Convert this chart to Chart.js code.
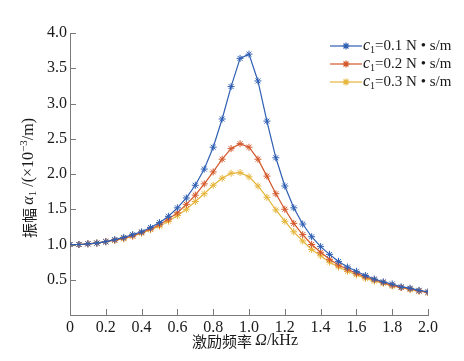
<!DOCTYPE html>
<html>
<head>
<meta charset="utf-8">
<script src="https://cdn.jsdelivr.net/npm/chart.js@4.4.1/dist/chart.umd.min.js"></script>
<style>
  html, body { margin: 0; padding: 0; background: #fff; }
  #wrap { width: 464px; height: 361px; }
</style>
</head>
<body>
<div id="wrap"><canvas id="c" width="464" height="361"></canvas></div>
<script>
// excitation frequency (kHz), sampled every 0.05
const freq = [0, 0.05, 0.1, 0.15, 0.2, 0.25, 0.3, 0.35, 0.4, 0.45, 0.5, 0.55, 0.6, 0.65, 0.7, 0.75, 0.8, 0.85, 0.9, 0.95,
  1.0, 1.05, 1.1, 1.15, 1.2, 1.25, 1.3, 1.35, 1.4, 1.45, 1.5, 1.55, 1.6, 1.65, 1.7, 1.75, 1.8, 1.85, 1.9, 1.95, 2.0];

// amplitude (x10^-3 /m)
const ampC01 = [1.00, 1.00, 1.01, 1.02, 1.04, 1.07, 1.10, 1.14, 1.18, 1.24, 1.31, 1.40, 1.52, 1.66, 1.84, 2.07, 2.38, 2.78, 3.24, 3.64,
  3.70, 3.32, 2.75, 2.23, 1.83, 1.52, 1.29, 1.11, 0.97, 0.86, 0.76, 0.68, 0.62, 0.56, 0.51, 0.47, 0.44, 0.40, 0.38, 0.35, 0.33];
const ampC02 = [1.00, 1.00, 1.01, 1.02, 1.04, 1.06, 1.09, 1.12, 1.17, 1.22, 1.28, 1.36, 1.45, 1.57, 1.70, 1.86, 2.03, 2.21, 2.36, 2.43,
  2.38, 2.21, 1.97, 1.72, 1.50, 1.30, 1.14, 1.00, 0.89, 0.79, 0.71, 0.65, 0.59, 0.54, 0.50, 0.46, 0.42, 0.39, 0.37, 0.34, 0.32];
const ampC03 = [1.00, 1.00, 1.01, 1.02, 1.04, 1.06, 1.08, 1.12, 1.16, 1.21, 1.26, 1.33, 1.41, 1.50, 1.61, 1.72, 1.84, 1.94, 2.01, 2.02,
  1.96, 1.83, 1.67, 1.49, 1.33, 1.18, 1.05, 0.93, 0.84, 0.75, 0.68, 0.62, 0.57, 0.52, 0.48, 0.45, 0.41, 0.39, 0.36, 0.34, 0.32];

const seriesNames = ["=0.1 N \u2022 s/m", "=0.2 N \u2022 s/m", "=0.3 N \u2022 s/m"];
const seriesColors = ["#2f5fb3", "#d3582b", "#e6b53a"];
const xTicks = [0, 0.2, 0.4, 0.6, 0.8, 1.0, 1.2, 1.4, 1.6, 1.8, 2.0];
const yTicks = [0.5, 1.0, 1.5, 2.0, 2.5, 3.0, 3.5, 4.0];

const SERIF = "'Liberation Serif', 'Times New Roman', serif";
const CJK = "'Noto Sans CJK SC', sans-serif";
const AXIS_COLOR = "#7a7a7a";
const TEXT_COLOR = "#1a1a1a";

// draw a run of text pieces with their own fonts / baseline shifts
function drawRich(ctx, parts, x, y, align) {
  let total = 0;
  parts.forEach(p => { ctx.font = p.font; p.w = ctx.measureText(p.t).width; total += p.w; });
  let cx = align === "center" ? x - total / 2 : x;
  ctx.textAlign = "left";
  ctx.textBaseline = "middle";
  parts.forEach(p => {
    ctx.font = p.font;
    ctx.fillText(p.t, cx, y + (p.dy || 0));
    cx += p.w;
  });
}

const decorPlugin = {
  id: "decor",
  afterDraw(chart) {
    const ctx = chart.ctx;
    const xs = chart.scales.x, ys = chart.scales.y;
    const area = chart.chartArea;
    ctx.save();

    // inward ticks
    ctx.strokeStyle = AXIS_COLOR;
    ctx.lineWidth = 1;
    ctx.beginPath();
    xTicks.forEach(v => {
      const px = Math.round(xs.getPixelForValue(v)) + 0.5;
      ctx.moveTo(px, area.bottom);
      ctx.lineTo(px, area.bottom - 6);
    });
    yTicks.forEach(v => {
      const py = Math.round(ys.getPixelForValue(v)) + 0.5;
      ctx.moveTo(area.left, py);
      ctx.lineTo(area.left + 6, py);
    });
    ctx.stroke();

    ctx.fillStyle = TEXT_COLOR;

    // x title
    drawRich(ctx, [
      { t: "激励频率 ", font: "15px " + CJK },
      { t: "Ω", font: "italic 16px " + SERIF },
      { t: "/kHz", font: "16px " + SERIF }
    ], 245, 341, "center");

    // y title (rotated)
    ctx.save();
    ctx.translate(29, 178);
    ctx.rotate(-Math.PI / 2);
    drawRich(ctx, [
      { t: "振幅 ", font: "15px " + CJK },
      { t: "α", font: "italic 16px " + SERIF },
      { t: "1", font: "11px " + SERIF, dy: 4 },
      { t: " /(×10", font: "16px " + SERIF },
      { t: "−3", font: "11px " + SERIF, dy: -5 },
      { t: "/m)", font: "16px " + SERIF }
    ], 0, 0, "center");
    ctx.restore();

    // legend
    seriesNames.forEach((name, i) => {
      const y = 46 + i * 18;
      ctx.strokeStyle = seriesColors[i];
      ctx.lineWidth = 1.2;
      ctx.beginPath();
      ctx.moveTo(330, y);
      ctx.lineTo(362, y);
      ctx.stroke();
      Chart.helpers.drawPoint(ctx, { pointStyle: "star", radius: 3.5, borderWidth: 1 }, 346, y);
      ctx.fillStyle = TEXT_COLOR;
      drawRich(ctx, [
        { t: "c", font: "italic 16px " + SERIF },
        { t: "1", font: "10px " + SERIF, dy: 4 },
        { t: name, font: "15px " + SERIF }
      ], 363, y, "left");
    });

    ctx.restore();
  }
};

const mk = (arr) => arr.map((v, i) => ({ x: freq[i], y: v }));
const allSeries = [ampC01, ampC02, ampC03];

new Chart(document.getElementById("c"), {
  type: "line",
  data: {
    datasets: allSeries.map((arr, i) => ({
      label: "c1" + seriesNames[i],
      data: mk(arr),
      borderColor: seriesColors[i],
      backgroundColor: seriesColors[i],
      borderWidth: 1.2,
      pointStyle: "star",
      pointRadius: 3.5,
      pointBorderWidth: 1,
      pointBorderColor: seriesColors[i],
      tension: 0
    }))
  },
  options: {
    responsive: false,
    animation: false,
    layout: { padding: { top: 33, right: 36, left: 0, bottom: 0 } },
    plugins: { legend: { display: false }, tooltip: { enabled: false } },
    scales: {
      x: {
        type: "linear",
        min: 0, max: 2,
        afterFit: (s) => { s.height = 46; },
        afterBuildTicks: (s) => { s.ticks = xTicks.map(v => ({ value: v })); },
        grid: { display: false, drawTicks: false },
        border: { display: true, color: AXIS_COLOR, width: 1 },
        ticks: {
          padding: 3,
          color: TEXT_COLOR,
          font: { family: SERIF, size: 16 },
          maxRotation: 0,
          callback: (v) => v === 0 ? "0" : v.toFixed(1)
        }
      },
      y: {
        min: 0, max: 4,
        afterFit: (s) => { s.width = 70; },
        afterBuildTicks: (s) => { s.ticks = yTicks.map(v => ({ value: v })); },
        grid: { display: false, drawTicks: false },
        border: { display: true, color: AXIS_COLOR, width: 1 },
        ticks: {
          padding: 3,
          color: TEXT_COLOR,
          font: { family: SERIF, size: 16 },
          callback: (v) => v.toFixed(1)
        }
      }
    }
  },
  plugins: [decorPlugin]
});
</script>
</body>
</html>
